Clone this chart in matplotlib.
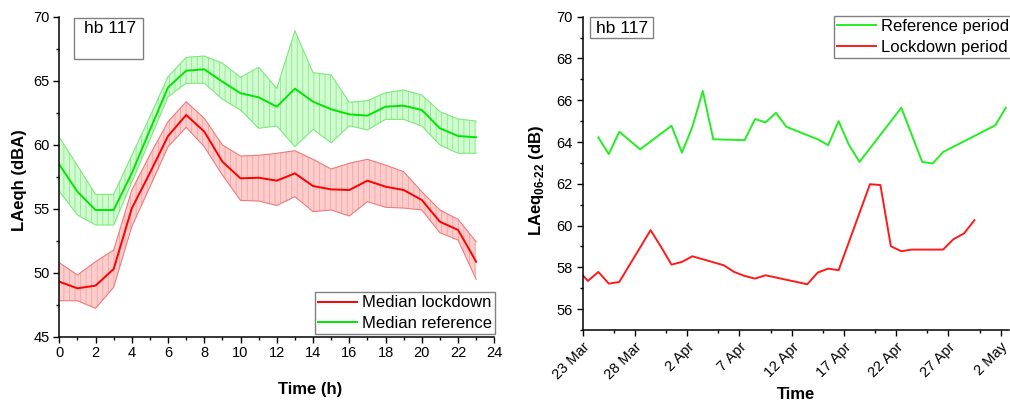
import numpy as np
import pandas as pd
import matplotlib
matplotlib.use("Agg")
import matplotlib.pyplot as plt
import matplotlib.dates as mdates
from matplotlib.patches import Rectangle
from matplotlib.ticker import MultipleLocator, FixedLocator, FuncFormatter

plt.rcParams["font.family"] = ["Liberation Sans", "DejaVu Sans"]
plt.rcParams["mathtext.fontset"] = "custom"
plt.rcParams["mathtext.rm"] = "Liberation Sans:bold"
plt.rcParams["mathtext.bf"] = "Liberation Sans:bold"
plt.rcParams["hatch.linewidth"] = 0.6

# ---- left panel: hourly medians with bands ----
hours = np.arange(24)
lock_med = [49.30, 48.78, 48.99, 50.29, 55.03, 57.80, 60.68, 62.32, 61.02, 58.67, 57.37, 57.42,
            57.19, 57.76, 56.77, 56.51, 56.46, 57.19, 56.72, 56.46, 55.68, 53.98, 53.34, 50.86]
lock_hi = [50.78, 49.82, 50.86, 51.77, 56.46, 59.20, 61.80, 63.36, 62.06, 59.98, 59.12, 59.17,
           59.33, 59.53, 58.86, 58.10, 58.55, 58.86, 58.41, 57.89, 56.33, 54.90, 54.17, 52.42]
lock_lo = [47.81, 47.81, 47.22, 48.86, 53.60, 56.70, 59.84, 61.36, 59.84, 57.63, 55.65, 55.60,
           55.25, 55.94, 54.77, 54.90, 54.43, 55.55, 55.11, 55.05, 54.90, 53.12, 52.55, 49.48]
ref_med = [58.45, 56.33, 54.90, 54.90, 57.77, 61.15, 64.48, 65.78, 65.89, 64.92, 64.02, 63.70,
           62.97, 64.38, 63.36, 62.77, 62.37, 62.27, 62.97, 63.05, 62.71, 61.28, 60.68, 60.58]
ref_hi = [60.58, 58.36, 56.12, 56.12, 59.17, 62.19, 65.31, 66.83, 66.93, 66.36, 65.27, 66.05,
          64.40, 68.90, 65.63, 65.45, 63.31, 63.44, 64.06, 64.27, 63.88, 62.58, 62.01, 61.85]
ref_lo = [56.35, 54.51, 53.73, 53.73, 57.07, 60.40, 63.75, 64.80, 64.80, 63.55, 62.71, 61.28,
          61.46, 59.84, 61.20, 60.15, 61.48, 61.15, 61.98, 61.98, 61.46, 59.98, 59.33, 59.33]

# ---- right panel: daily LAeq 06-22 ----
ref_dates = ["03-24", "03-25", "03-26", "03-28", "03-31", "04-01", "04-02", "04-03", "04-04",
             "04-07", "04-08", "04-09", "04-10", "04-11", "04-14", "04-15", "04-16", "04-17",
             "04-18", "04-22", "04-24", "04-25", "04-26", "05-01", "05-02"]
ref_daily = [64.22, 63.42, 64.49, 63.65, 64.78, 63.49, 64.73, 66.44, 64.13,
             64.09, 65.10, 64.94, 65.40, 64.73, 64.13, 63.85, 65.00, 63.85,
             63.05, 65.64, 63.05, 62.97, 63.52, 64.80, 65.64]
lock_dates = ["03-22", "03-23", "03-24", "03-25", "03-26", "03-29", "03-30", "03-31", "04-01",
              "04-02", "04-05", "04-06", "04-07", "04-08", "04-09", "04-13", "04-14", "04-15",
              "04-16", "04-19", "04-20", "04-21", "04-22", "04-23", "04-26", "04-27", "04-28",
              "04-29"]
lock_daily = [57.89, 57.35, 57.78, 57.22, 57.30, 59.78, 58.98, 58.13, 58.26,
              58.53, 58.10, 57.78, 57.59, 57.46, 57.62, 57.19, 57.75, 57.94,
              57.86, 61.98, 61.94, 59.01, 58.77, 58.85, 58.85, 59.35, 59.62,
              60.26]

ref_t = pd.to_datetime(["2020-" + d + " 12:00" for d in ref_dates])
lock_t = pd.to_datetime(["2020-" + d + " 12:00" for d in lock_dates])

W, H = 1010, 403
fig = plt.figure(figsize=(W / 100, H / 100), dpi=100)


def fx(px):
    return px / W


def fy(py):
    return 1 - py / H


RED = "#ff0000"
GREEN = "#00e600"

ax1 = fig.add_axes([fx(59.3), fy(336.7), fx(494.3) - fx(59.3), fy(16.7) - fy(336.7)])
ax2 = fig.add_axes([fx(582.7), fy(330), fx(1009) - fx(582.7), fy(16.7) - fy(330)])

# bands
ax1.fill_between(hours, lock_lo, lock_hi, facecolor="#ffcccc", edgecolor="#e6aaaa",
                 hatch="|||", linewidth=0)
ax1.fill_between(hours, ref_lo, ref_hi, facecolor="#ccffcc", edgecolor="#a4d8a4",
                 hatch="|||", linewidth=0)
for y in (lock_lo, lock_hi):
    ax1.plot(hours, y, color="#f07a7a", lw=0.8)
for y in (ref_lo, ref_hi):
    ax1.plot(hours, y, color="#7aea7a", lw=0.8)
ax1.plot(hours, lock_med, color=RED, lw=1.4, label="Median lockdown")
ax1.plot(hours, ref_med, color=GREEN, lw=1.4, label="Median reference")

ax1.set_xlim(0, 24)
ax1.set_ylim(45, 70)
ax1.xaxis.set_major_locator(MultipleLocator(2))
ax1.xaxis.set_minor_locator(MultipleLocator(1))
ax1.yaxis.set_major_locator(MultipleLocator(5))
ax1.yaxis.set_minor_locator(MultipleLocator(2.5))
ax1.set_xlabel("Time (h)", fontsize=12, fontweight="bold")
ax1.set_ylabel("LAeqh (dBA)", fontsize=12, fontweight="bold")
ax1.xaxis.set_label_coords(0.576, -0.141)
ax1.yaxis.set_label_coords(-0.074, 0.49)

leg1 = ax1.legend(loc="lower right", bbox_to_anchor=(fx(495), fy(334)),
                  bbox_transform=fig.transFigure, borderaxespad=0, fontsize=12,
                  fancybox=False, framealpha=1, edgecolor="#808080",
                  handlelength=2.3, handletextpad=0.3, labelspacing=0.32, borderpad=0.2)
leg1.get_frame().set_linewidth(1.0)

# right panel
ax2.plot(ref_t, ref_daily, color="#22ee22", lw=1.4, label="Reference period")
ax2.plot(lock_t, lock_daily, color="#ff1a1a", lw=1.4, label="Lockdown period")

start = pd.Timestamp("2020-03-23")
ax2.set_xlim(start, start + pd.Timedelta(days=40.81))
ax2.set_ylim(55, 70)
ax2.xaxis.set_major_locator(FixedLocator(mdates.date2num(pd.date_range("2020-03-23", periods=9, freq="5D"))))
ax2.xaxis.set_minor_locator(FixedLocator(mdates.date2num(pd.date_range("2020-03-26", periods=9, freq="5D"))))
ax2.xaxis.set_major_formatter(FuncFormatter(
    lambda v, p: "{} {}".format(mdates.num2date(v).day, mdates.num2date(v).strftime("%b"))))
ax2.yaxis.set_major_locator(MultipleLocator(2))
ax2.yaxis.set_minor_locator(MultipleLocator(1))
for lbl in ax2.get_xticklabels():
    lbl.set_rotation(45)
    lbl.set_ha("right")
    lbl.set_rotation_mode("anchor")
ax2.set_xlabel("Time", fontsize=12, fontweight="bold")
ax2.set_ylabel(r"LAeq$_{06\text{-}22}$ (dB)", fontsize=12, fontweight="bold")
ax2.xaxis.set_label_coords(0.5, -0.181)
ax2.yaxis.set_label_coords(-0.086, 0.476)

leg2 = ax2.legend(loc="upper right", bbox_to_anchor=(fx(1012), fy(16)),
                  bbox_transform=fig.transFigure, borderaxespad=0, fontsize=12,
                  fancybox=False, framealpha=1, edgecolor="#808080",
                  handlelength=2.3, handletextpad=0.3, labelspacing=0.32, borderpad=0.2)
leg2.get_frame().set_linewidth(1.0)

for ax in (ax1, ax2):
    ax.spines["top"].set_visible(False)
    ax.spines["right"].set_visible(False)
    for s in ("left", "bottom"):
        ax.spines[s].set_linewidth(1.1)
    ax.tick_params(which="major", direction="out", length=4.5, width=1.0, labelsize=10.5, pad=2.5)
    ax.tick_params(which="minor", direction="out", length=2.5, width=1.0)

# "hb 117" boxes
fig.patches.append(Rectangle((fx(74), fy(59.3)), fx(142.7) - fx(74), fy(18.3) - fy(59.3),
                             transform=fig.transFigure, fill=False, edgecolor="#808080", lw=1.0))
fig.text(fx(109.7), fy(28.5), "hb 117", fontsize=12.5, ha="center", va="center")
fig.patches.append(Rectangle((fx(590), fy(38.3)), fx(653.3) - fx(590), fy(17.3) - fy(38.3),
                             transform=fig.transFigure, fill=False, edgecolor="#808080", lw=1.0))
fig.text(fx(621.7), fy(28.5), "hb 117", fontsize=12.5, ha="center", va="center")

fig.savefig("out.png", dpi=100)
